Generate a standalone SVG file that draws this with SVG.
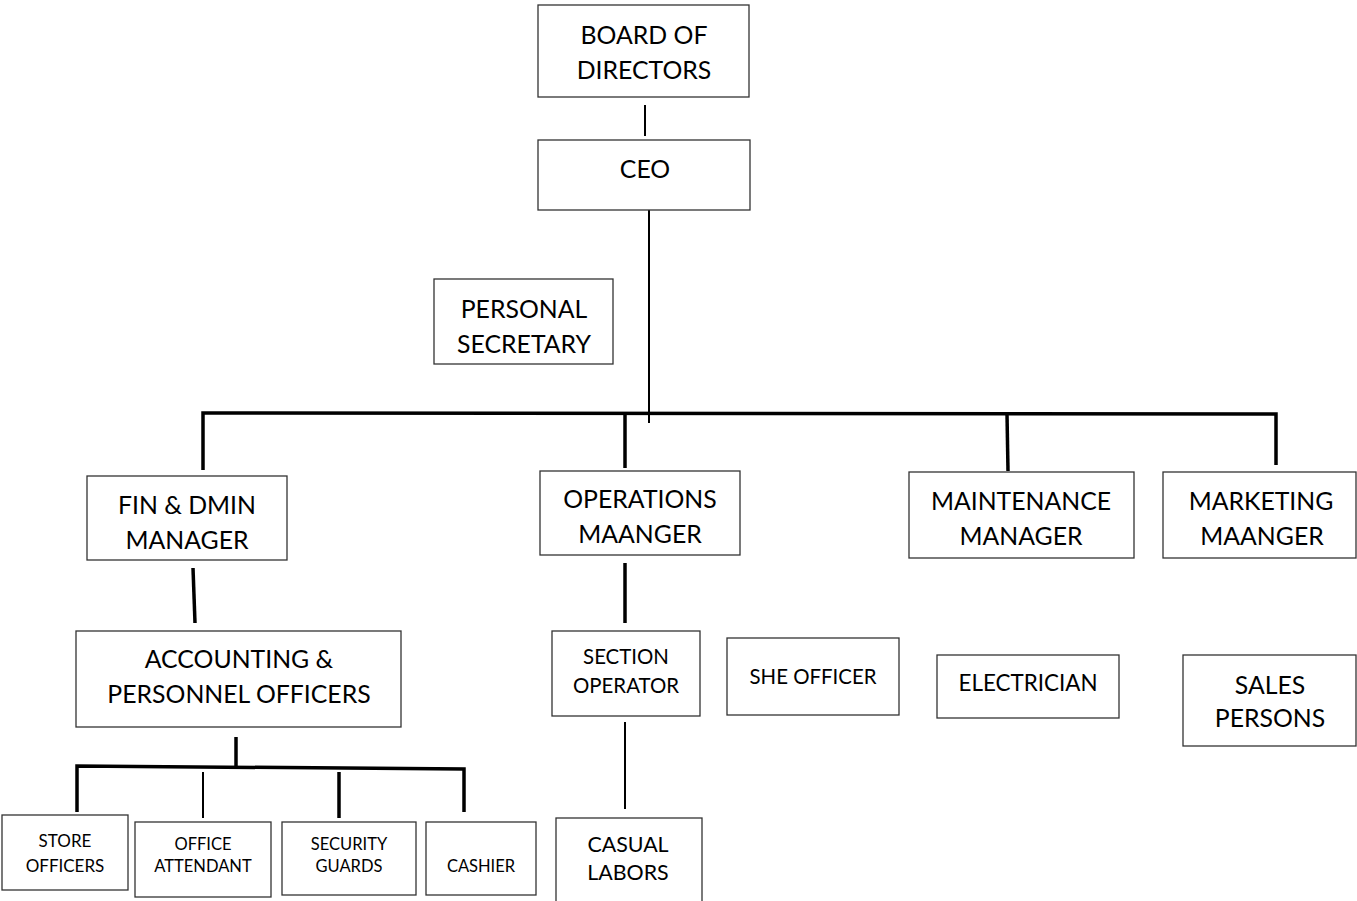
<svg xmlns="http://www.w3.org/2000/svg" width="1357" height="901" viewBox="0 0 1357 901">
<style>
.b{fill:#fff;stroke:#333;stroke-width:1.3}
.t{font-family:Lato,"Liberation Sans",sans-serif;fill:#000;text-anchor:middle}
.l{font-size:24.8px}
.m{font-size:20.4px}
.s{font-size:16.5px}
.c{stroke:#000;stroke-width:3.5;fill:none;stroke-linecap:butt}
.c2{stroke:#000;stroke-width:2;fill:none}
</style>
<rect width="1357" height="901" fill="#fff"/>
<g id="connectors">
<line class="c2" x1="645" y1="105" x2="645" y2="136"/>
<line class="c2" x1="649" y1="210" x2="649" y2="423"/>
<polyline class="c" points="203,470 203,413 1276,414 1276,465"/>
<line class="c" x1="625" y1="413" x2="625" y2="468"/>
<line class="c" x1="1007" y1="414" x2="1008" y2="471"/>
<line class="c" x1="193" y1="568" x2="195" y2="623"/>
<line class="c" x1="625" y1="563" x2="625" y2="623"/>
<line class="c2" x1="625" y1="722" x2="625" y2="809"/>
<line class="c" x1="236" y1="737" x2="236" y2="767"/>
<polyline class="c" points="77,812 77,766 464,769 464,812"/>
<line class="c2" x1="203" y1="772" x2="203" y2="818"/>
<line class="c" x1="339" y1="772" x2="339" y2="818"/>
</g>
<g id="board"><rect class="b" x="538" y="5" width="211" height="92"/><text class="t l" x="644" y="44">BOARD OF</text><text class="t l" x="644" y="79">DIRECTORS</text></g>
<g id="ceo"><rect class="b" x="538" y="140" width="212" height="70"/><text class="t l" x="645" y="178">CEO</text></g>
<g id="secretary"><rect class="b" x="434" y="279" width="179" height="85"/><text class="t l" x="524" y="318">PERSONAL</text><text class="t l" x="524" y="353">SECRETARY</text></g>
<g id="fin"><rect class="b" x="87" y="476" width="200" height="84"/><text class="t l" x="187" y="514">FIN &amp; DMIN</text><text class="t l" x="187" y="549">MANAGER</text></g>
<g id="ops"><rect class="b" x="540" y="471" width="200" height="84"/><text class="t l" x="640" y="508">OPERATIONS</text><text class="t l" x="640" y="543">MAANGER</text></g>
<g id="maint"><rect class="b" x="909" y="472" width="225" height="86"/><text class="t l" x="1021" y="510">MAINTENANCE</text><text class="t l" x="1021" y="545">MANAGER</text></g>
<g id="mkt"><rect class="b" x="1163" y="472" width="193" height="86"/><text class="t l" x="1261" y="510">MARKETING</text><text class="t l" x="1262" y="545">MAANGER</text></g>
<g id="acct"><rect class="b" x="76" y="631" width="325" height="96"/><text class="t l" x="239" y="668">ACCOUNTING &amp;</text><text class="t l" x="239" y="703">PERSONNEL OFFICERS</text></g>
<g id="section"><rect class="b" x="552" y="631" width="148" height="85"/><text class="t m" x="626" y="664">SECTION</text><text class="t m" x="626" y="693">OPERATOR</text></g>
<g id="she"><rect class="b" x="727" y="638" width="172" height="77"/><text class="t m" x="813" y="684">SHE OFFICER</text></g>
<g id="elec"><rect class="b" x="937" y="655" width="182" height="63"/><text class="t" style="font-size:22.4px" x="1028" y="691">ELECTRICIAN</text></g>
<g id="sales"><rect class="b" x="1183" y="655" width="173" height="91"/><text class="t l" x="1270" y="694">SALES</text><text class="t l" x="1270" y="727">PERSONS</text></g>
<g id="store"><rect class="b" x="2" y="815" width="126" height="75"/><text class="t" style="font-size:17px" x="65" y="847">STORE</text><text class="t" style="font-size:17px" x="65" y="872">OFFICERS</text></g>
<g id="office"><rect class="b" x="135" y="822" width="136" height="75"/><text class="t s" x="203" y="850">OFFICE</text><text class="t s" x="203" y="872">ATTENDANT</text></g>
<g id="security"><rect class="b" x="282" y="822" width="134" height="73"/><text class="t s" x="349" y="850">SECURITY</text><text class="t s" x="349" y="872">GUARDS</text></g>
<g id="cashier"><rect class="b" x="426" y="822" width="110" height="73"/><text class="t s" x="481" y="872">CASHIER</text></g>
<g id="casual"><rect class="b" x="556" y="818" width="146" height="90"/><text class="t" style="font-size:21.4px" x="628" y="852">CASUAL</text><text class="t" style="font-size:21.4px" x="628" y="880">LABORS</text></g>
</svg>
